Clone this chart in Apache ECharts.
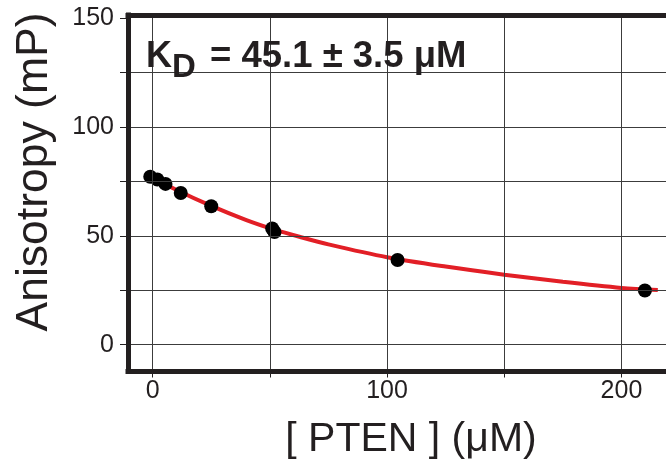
<!DOCTYPE html>
<html>
<head>
<meta charset="utf-8">
<script src="https://cdn.jsdelivr.net/npm/echarts@6/dist/echarts.min.js"></script>
<style>
  html, body { margin: 0; padding: 0; background: #ffffff; }
  #chart { width: 666px; height: 462px; }
</style>
</head>
<body>
<div id="chart"></div>
<script>
// Measured anisotropy for each PTEN concentration
const concPoints  = [-1, 2, 5.5, 12, 25, 51, 52, 104.5, 210];
const anisoPoints = [77.2, 75.9, 73.9, 69.7, 63.6, 53.4, 51.8, 38.9, 24.9];

// Fitted binding curve, sampled along the concentration axis
const fitConc  = [-1, 10, 25, 40, 52, 63, 75, 100, 125, 150, 175, 200, 215.5];
const fitAniso = [77.5, 71.2, 63.8, 57.3, 52.9, 49.5, 46.1, 40.2, 35.9, 32.2, 28.9, 26.1, 25.2];

// Tick positions and labelled ticks
const xTickValues  = [0, 50, 100, 150, 200];
const xLabelValues = [0, 100, 200];
const yTickValues  = [0, 25, 50, 75, 100, 125, 150];
const yLabelValues = [0, 50, 100, 150];
const yGridValues  = [0, 25, 50, 75, 100, 125];

const ink = '#231f20';
const fontFamily = '"Liberation Sans", Arial, Helvetica, sans-serif';

const chart = echarts.init(document.getElementById('chart'), null, { renderer: 'canvas' });

const frameLine = { show: true, onZero: false, lineStyle: { color: ink, width: 5, cap: 'square' } };

const option = {
  backgroundColor: '#ffffff',
  animation: false,
  grid: { left: 128, top: 15, right: 0, bottom: 90.5, containLabel: false },
  xAxis: [
    {
      type: 'value',
      min: -10.5,
      max: 219,
      position: 'bottom',
      z: 10,
      axisLine: frameLine,
      axisTick: { show: true, customValues: xTickValues, length: 6, lineStyle: { color: ink, width: 1 } },
      axisLabel: { show: true, customValues: xLabelValues, fontSize: 25, color: ink, fontFamily: fontFamily, margin: 7 },
      splitLine: { show: false }
    },
    {
      type: 'value',
      min: -10.5,
      max: 219,
      position: 'top',
      z: 10,
      axisLine: frameLine,
      axisTick: { show: false },
      axisLabel: { show: false },
      splitLine: { show: false }
    }
  ],
  yAxis: {
    type: 'value',
    min: -12.3,
    max: 151.5,
    z: 10,
    axisLine: frameLine,
    axisTick: { show: true, customValues: yTickValues, length: 8, lineStyle: { color: ink, width: 1 } },
    axisLabel: { show: true, customValues: yLabelValues, fontSize: 25, color: ink, fontFamily: fontFamily, margin: 14 },
    splitLine: { show: false }
  },
  series: [
    {
      // grid lines, placed through the axis scales
      type: 'line',
      data: [],
      z: 1,
      silent: true,
      markLine: {
        silent: true,
        symbol: 'none',
        label: { show: false },
        lineStyle: { color: '#3c3c3c', width: 1, type: 'solid' },
        animation: false,
        data: xTickValues.map(v => ({ xAxis: v })).concat(yGridValues.map(v => ({ yAxis: v })))
      }
    },
    {
      name: 'fit',
      type: 'line',
      z: 3,
      smooth: 0.3,
      showSymbol: false,
      lineStyle: { color: '#e21f26', width: 4 },
      data: fitConc.map((c, i) => [c, fitAniso[i]])
    },
    {
      name: 'data',
      type: 'scatter',
      z: 4,
      symbol: 'circle',
      symbolSize: 14,
      itemStyle: { color: '#000000', opacity: 1 },
      data: concPoints.map((c, i) => [c, anisoPoints[i]])
    }
  ],
  graphic: [
    {
      // white panel behind the dissociation-constant annotation
      type: 'rect',
      z: 5,
      silent: true,
      shape: { x: 127, y: 16, width: 376.5, height: 84.5 },
      style: { fill: '#ffffff' }
    },
    {
      type: 'text', z: 6, x: 146, y: 57,
      style: { text: 'K', fontSize: 36, fontWeight: 'bold', fontFamily: fontFamily, fill: ink,
               textAlign: 'left', textVerticalAlign: 'middle' }
    },
    {
      type: 'text', z: 6, x: 172, y: 68,
      style: { text: 'D', fontSize: 33, fontWeight: 'bold', fontFamily: fontFamily, fill: ink,
               textAlign: 'left', textVerticalAlign: 'middle' }
    },
    {
      type: 'text', z: 6, x: 210, y: 57,
      style: { text: '= 45.1 ± 3.5 μM', fontSize: 36.5, fontWeight: 'bold', fontFamily: fontFamily, fill: ink,
               textAlign: 'left', textVerticalAlign: 'middle' }
    },
    {
      type: 'text', z: 6, x: 411, y: 440,
      style: { text: '[ PTEN ] (μM)', fontSize: 41, fontFamily: fontFamily, fill: ink,
               textAlign: 'center', textVerticalAlign: 'middle' }
    },
    {
      type: 'text', z: 6, x: 35, y: 172, rotation: Math.PI / 2,
      style: { text: 'Anisotropy (mP)', fontSize: 44.5, fontFamily: fontFamily, fill: ink,
               textAlign: 'center', textVerticalAlign: 'middle' }
    }
  ]
};

chart.setOption(option);
</script>
</body>
</html>
